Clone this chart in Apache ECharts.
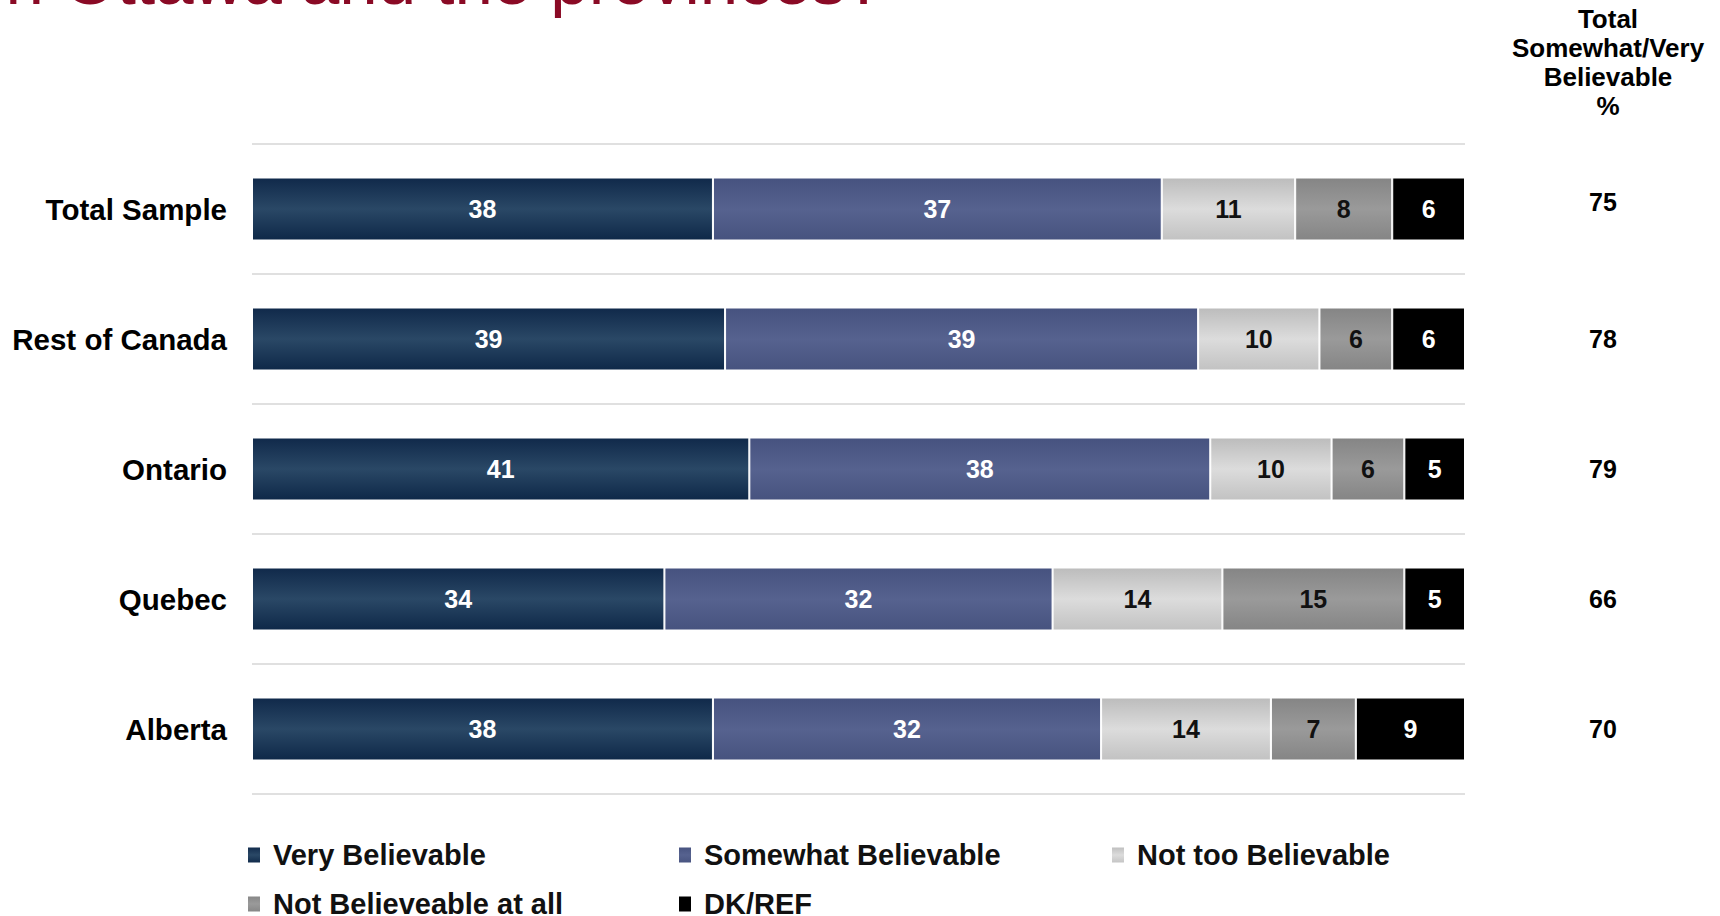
<!DOCTYPE html>
<html>
<head>
<meta charset="utf-8">
<title>Believability by region</title>
<script src="https://cdn.jsdelivr.net/npm/echarts@6/dist/echarts.min.js"></script>
<style>
  html, body { margin: 0; padding: 0; background: #ffffff; }
  #chart { width: 1720px; height: 916px; }
</style>
</head>
<body>
<div id="chart"></div>
<script>
// Survey shares (%) per region, one array per response option
const categories = ['Total Sample', 'Rest of Canada', 'Ontario', 'Quebec', 'Alberta'];
const veryBelievable = [38, 39, 41, 34, 38];
const somewhatBelievable = [37, 39, 38, 32, 32];
const notTooBelievable = [11, 10, 10, 14, 14];
const notBelievableAtAll = [8, 6, 6, 15, 7];
const dkRef = [6, 6, 5, 5, 9];
// Right-hand column: total somewhat/very believable
const totalBelievable = [75, 78, 79, 66, 70];
const seriesNames = ['Very Believable', 'Somewhat Believable', 'Not too Believable', 'Not Believeable at all', 'DK/REF'];
const headerLines = ['Total', 'Somewhat/Very', 'Believable', '%'];
const titleText = 'een Ottawa and the provinces?';

const FONT = '"Liberation Sans", Arial, Helvetica, sans-serif';

function shade(top, mid, bottom) {
  return new echarts.graphic.LinearGradient(0, 0, 0, 1, [
    { offset: 0, color: top },
    { offset: 0.5, color: mid },
    { offset: 1, color: bottom }
  ]);
}

const fills = [
  shade('#10294a', '#2a4866', '#0e2848'),
  shade('#46527f', '#56628f', '#47537f'),
  shade('#bcbcbc', '#dcdcdc', '#c2c2c2'),
  shade('#858585', '#9a9a9a', '#858585'),
  '#000000'
];
const labelColors = ['#ffffff', '#ffffff', '#111111', '#111111', '#ffffff'];
const values = [veryBelievable, somewhatBelievable, notTooBelievable, notBelievableAtAll, dkRef];

const series = seriesNames.map((name, i) => ({
  name: name,
  type: 'bar',
  stack: 'share',
  barWidth: 63,
  data: values[i],
  itemStyle: { color: fills[i], borderColor: '#ffffff', borderWidth: 1 },
  label: {
    show: true,
    position: 'inside',
    color: labelColors[i],
    fontFamily: FONT,
    fontWeight: 'bold',
    fontSize: 25
  },
  emphasis: { disabled: true }
}));

// One legend block per item so the two rows line up in columns
const legendSpots = [
  { left: 246, top: 840 },
  { left: 677, top: 840 },
  { left: 1110, top: 840 },
  { left: 246, top: 889 },
  { left: 677, top: 889 }
];
const legends = seriesNames.map((name, i) => ({
  data: [name],
  left: legendSpots[i].left,
  top: legendSpots[i].top,
  icon: 'rect',
  itemWidth: 14,
  itemHeight: 17,
  padding: 0,
  selectedMode: false,
  textStyle: {
    fontFamily: FONT,
    fontWeight: 'bold',
    fontSize: 29,
    lineHeight: 30,
    color: '#111111',
    padding: [0, 0, 0, 7]
  }
}));

const totalTextStyle = {
  fontFamily: FONT,
  fontWeight: 'bold',
  fontSize: 25,
  color: '#000000'
};

const chart = echarts.init(document.getElementById('chart'), null, { renderer: 'svg' });
chart.setOption({
  animation: false,
  backgroundColor: '#ffffff',
  grid: { left: 252, right: 255, top: 144, bottom: 122, containLabel: false },
  legend: legends,
  xAxis: { type: 'value', min: 0, max: 100, show: false },
  yAxis: [
    {
      type: 'category',
      data: categories,
      inverse: true,
      axisLine: { show: false },
      axisTick: { show: false },
      splitLine: { show: true, lineStyle: { color: '#d6d6d6', width: 1.5 } },
      axisLabel: {
        margin: 25,
        color: '#000000',
        fontFamily: FONT,
        fontWeight: 'bold',
        fontSize: 29.5
      }
    },
    {
      type: 'category',
      data: categories,
      inverse: true,
      position: 'right',
      axisLine: { show: false },
      axisTick: { show: false },
      splitLine: { show: false },
      axisLabel: {
        margin: 138,
        align: 'center',
        color: '#000000',
        fontFamily: FONT,
        fontWeight: 'bold',
        fontSize: 25,
        // the first total sits slightly above its row
        formatter: (v, i) => (i === 0 ? '{up|' + totalBelievable[i] + '}' : '{n|' + totalBelievable[i] + '}'),
        rich: {
          up: Object.assign({ padding: [0, 0, 14, 0] }, totalTextStyle),
          n: totalTextStyle
        }
      }
    }
  ],
  graphic: [
    {
      type: 'text',
      x: 884,
      y: 15,
      silent: true,
      style: {
        text: titleText,
        textAlign: 'right',
        textVerticalAlign: 'bottom',
        verticalAlign: 'bottom',
        fill: '#8a0a25',
        font: '69px ' + FONT
      }
    },
    {
      type: 'text',
      x: 1608,
      y: 4,
      silent: true,
      style: {
        text: headerLines.join('\n'),
        textAlign: 'center',
        align: 'center',
        lineHeight: 29,
        fill: '#000000',
        font: 'bold 26px ' + FONT
      }
    }
  ],
  series: series
});
</script>
</body>
</html>
